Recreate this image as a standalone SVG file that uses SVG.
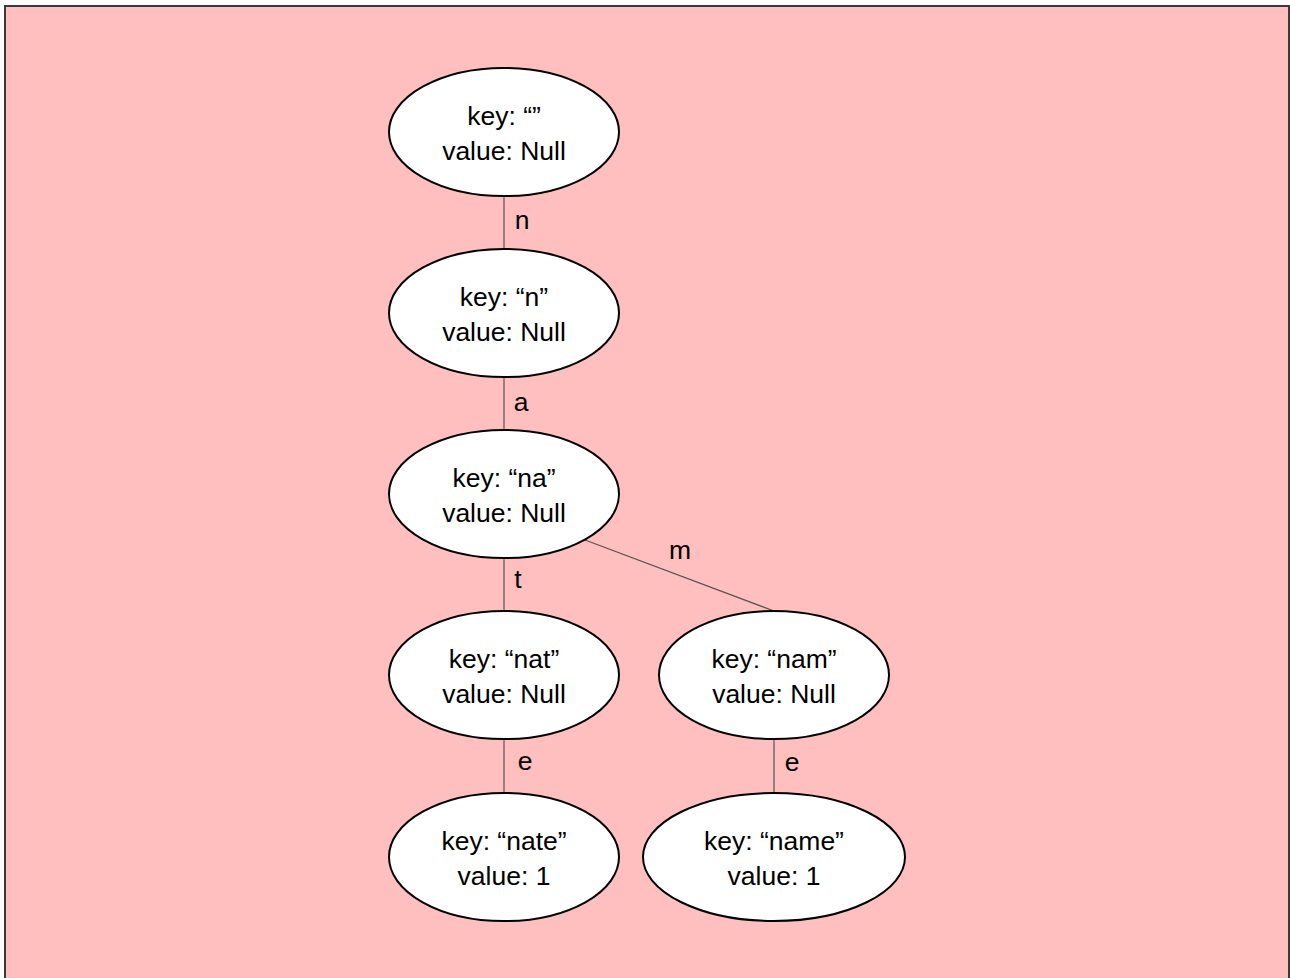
<svg xmlns="http://www.w3.org/2000/svg" width="1290" height="978" viewBox="0 0 1290 978">
<style>
.bg{fill:#FFBFBF;stroke:#3a3a3a;stroke-width:2}
.node ellipse{fill:#fff;stroke:#000;stroke-width:2}
.node text,.lbl{font-family:"Liberation Sans",Arial,sans-serif;font-size:26.5px;fill:#000;text-anchor:middle}
.edge{stroke:#555;stroke-width:1.2;fill:none}
</style>
<rect class="bg" x="5" y="6" width="1284" height="980"/>
<g id="connectors">
<line class="edge" x1="504" y1="197" x2="504" y2="249"/>
<line class="edge" x1="504" y1="378" x2="504" y2="430"/>
<line class="edge" x1="504" y1="559" x2="504" y2="611"/>
<line class="edge" x1="585" y1="540" x2="774" y2="611"/>
<line class="edge" x1="504" y1="740" x2="504" y2="793"/>
<line class="edge" x1="774" y1="740" x2="774" y2="793"/>
<text class="lbl" x="522" y="229">n</text>
<text class="lbl" x="521" y="411">a</text>
<text class="lbl" x="518" y="588">t</text>
<text class="lbl" x="680" y="559">m</text>
<text class="lbl" x="525" y="770">e</text>
<text class="lbl" x="792" y="771">e</text>
</g>
<g id="node-root" class="node"><ellipse cx="504" cy="132" rx="115" ry="64"/><text x="504" y="125">key: “”</text><text x="504" y="160">value: Null</text></g>
<g id="node-n" class="node"><ellipse cx="504" cy="313" rx="115" ry="64"/><text x="504" y="306">key: “n”</text><text x="504" y="341">value: Null</text></g>
<g id="node-na" class="node"><ellipse cx="504" cy="494" rx="115" ry="64"/><text x="504" y="487">key: “na”</text><text x="504" y="522">value: Null</text></g>
<g id="node-nat" class="node"><ellipse cx="504" cy="675" rx="115" ry="64"/><text x="504" y="668">key: “nat”</text><text x="504" y="703">value: Null</text></g>
<g id="node-nam" class="node"><ellipse cx="774" cy="675" rx="115" ry="64"/><text x="774" y="668">key: “nam”</text><text x="774" y="703">value: Null</text></g>
<g id="node-nate" class="node"><ellipse cx="504" cy="857" rx="115" ry="64"/><text x="504" y="850">key: “nate”</text><text x="504" y="885">value: 1</text></g>
<g id="node-name" class="node"><ellipse cx="774" cy="857" rx="131" ry="64"/><text x="774" y="850">key: “name”</text><text x="774" y="885">value: 1</text></g>
</svg>
